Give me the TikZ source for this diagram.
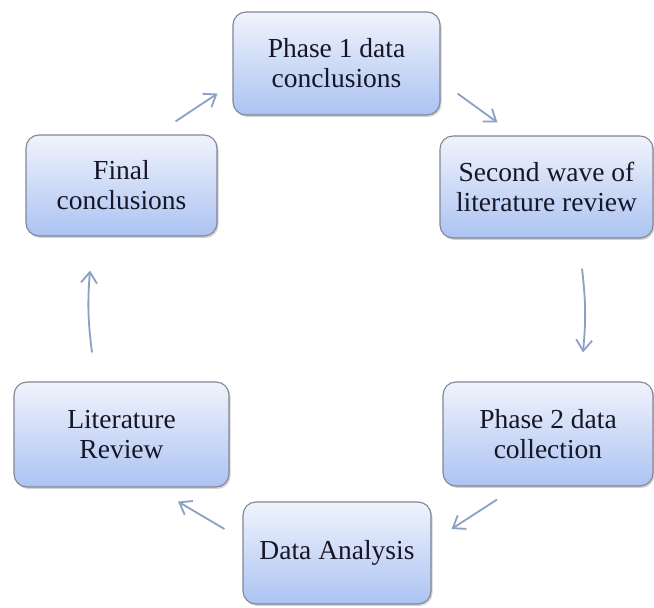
\documentclass[tikz,border=0pt]{standalone}
\usepackage{fontspec}
\setmainfont{Liberation Serif}
\usetikzlibrary{calc,shadows,arrows.meta}
\definecolor{boxtop}{RGB}{240,243,252}
\definecolor{boxbot}{RGB}{172,195,242}
\definecolor{boxline}{RGB}{128,134,150}
\definecolor{flowblue}{RGB}{138,160,196}
\definecolor{ink}{RGB}{22,22,38}
\begin{document}
\begin{tikzpicture}[x=1pt,y=1pt,
  box/.style={draw=boxline,line width=1.1pt,rounded corners=13pt,top color=boxtop,bottom color=boxbot,
    drop shadow={shadow xshift=1.5pt,shadow yshift=-2pt,opacity=0.35},
    align=center,text=ink,font=\fontsize{27.5}{30}\selectfont,inner sep=0pt},
  flow/.style={draw=flowblue,line width=1.8pt,-{Straight Barb[length=11pt,width=16pt,line width=1.8pt]}}]
  \useasboundingbox (0,0) rectangle (654,608);
  % the six stages of the cycle
  \node[box,minimum width=207,minimum height=103] (p1) at (336.5,544.5) {Phase 1 data\\conclusions};
  \node[box,minimum width=213,minimum height=102] (sw) at (546.5,421) {Second wave of\\literature review};
  \node[box,minimum width=210,minimum height=104] (p2) at (548,174) {Phase 2 data\\collection};
  \node[box,minimum width=188,minimum height=102] (da) at (337,55) {Data Analysis};
  \node[box,minimum width=215,minimum height=105] (lr) at (121.5,173.5) {Literature\\Review};
  \node[box,minimum width=191,minimum height=101] (fc) at (121.5,422.5) {Final\\conclusions};
  % arrows between stages
  \draw[flow] ($(fc.north east)+(-42,13)$) -- ($(p1.south west)+(-15,22)$);
  \draw[flow] ($(p1.south east)+(17,22)$) -- ($(sw.north west)+(58,13)$);
  \draw[flow] ($(sw.south)+(35.5,-30)$) to[bend left=6] ($(p2.north)+(35,29)$);
  \draw[flow] ($(p2.south)+(-51,-13)$) -- ($(da.east)+(20,24)$);
  \draw[flow] ($(da.west)+(-18,24)$) -- ($(lr.south)+(56.5,-14)$);
  \draw[flow] ($(lr.north)+(-29.5,29)$) to[bend left=6] ($(fc.south)+(-31.5,-34)$);
\end{tikzpicture}
\end{document}
